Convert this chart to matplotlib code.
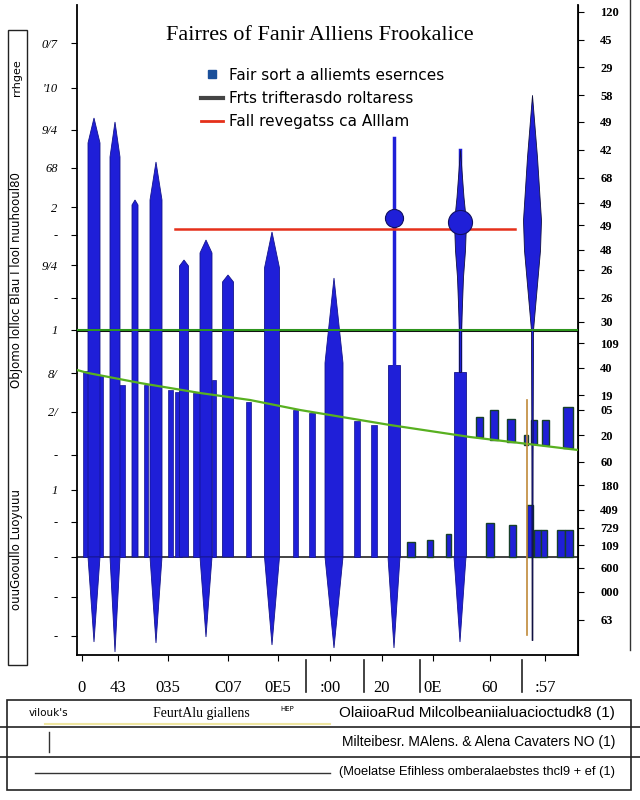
import matplotlib.pyplot as plt
from matplotlib.lines import Line2D
from matplotlib.patches import Rectangle
import numpy as np

# --- data -------------------------------------------------------------
title = "Fairres of Fanir Alliens Frookalice"
legend_labels = ["Fair sort a alliemts esernces",
                 "Frts trifterasdo roltaress",
                 "Fall revegatss ca Alllam"]

# thin bars under the falling line
bar_x = [0.85, 2.35, 4.45, 6.9, 9.35, 10.15, 11.95, 13.7, 17.15, 21.85, 23.5, 28.0, 29.7]
bar_w = [0.5, 0.5, 0.7, 0.4, 0.5, 0.7, 0.7, 0.4, 0.5, 0.5, 0.6, 0.6, 0.6]
bar_h = [186, 182, 172, 172, 167, 165, 164, 177, 155, 147, 144, 136, 132]

# spiked bars: centre, width, shoulder, tip, depth below zero
spike_x = [1.7, 3.8, 5.8, 7.9, 10.7, 12.9, 15.1, 19.5, 25.7]
spike_w = [1.2, 1.0, 0.6, 1.2, 0.9, 1.2, 1.1, 1.5, 1.8]
spike_s = [414, 400, 352, 357, 291, 304, 275, 289, 194]
spike_t = [439, 435, 357, 395, 297, 317, 282, 325, 279]
spike_d = [85, 95, 0, 86, 0, 80, 0, 88, 91]

# needle bars
needle_x = [31.7, 38.3]
needle_h = [192, 185]
needle_tip = [419, 407]
needle_dot = [339, 335]
needle_size = [170, 300]
needle_d = [91, 85]
n2_levels = [407, 360, 335, 307, 280, 227, 185]
n2_half = [0.0, 0.35, 0.6, 0.5, 0.3, 0.1, 0.1]

# spindle
spindle_x = 45.5
spindle_levels = [462, 400, 337, 307, 227, 100, -83]
spindle_half = [0.0, 0.5, 0.9, 0.8, 0.1, 0.06, 0.04]

# short bars sitting on the falling line
float_x = [40.25, 41.7, 43.4, 44.9, 45.7, 46.85, 49.1]
float_w = [0.7, 0.8, 0.8, 0.4, 0.6, 0.7, 1.0]
float_lo = [120, 117, 115, 112, 113, 112, 109]
float_hi = [140, 147, 138, 122, 137, 137, 150]

# small bars at zero
small_x = [33.4, 35.3, 37.15, 41.3, 43.5, 45.3, 46.0, 46.7, 48.4, 49.2]
small_w = [0.8, 0.6, 0.5, 0.7, 0.7, 0.6, 0.7, 0.6, 0.8, 0.8]
small_h = [15, 17, 23, 34, 32, 52, 27, 27, 27, 27]

# lines
flat_level = 227
red_level = 328
red_span = [9.8, 43.8]
fall_x = [0, 1.1, 6.3, 12.3, 17.3, 22.3, 31.3, 39.3, 50.1]
fall_y = [187, 184, 174, 164, 157, 147, 132, 120, 107]
orange_x = 45.0
orange_span = [-78, 157]

# ticks
xtick_pos = [0.5, 4.1, 9.1, 15.1, 20.1, 25.3, 30.5, 35.6, 41.3, 46.8]
xtick_lab = ["0", "43", "035", "C07", "0E5", ":00", "20", "0E", "60", ":57"]
ytick_pos = [514, 469, 427, 389, 350, 322, 292, 259, 227, 184, 145, 102, 67, 35, 0, -40, -79]
ytick_lab = ["0/7", "'10", "9/4", "68", "2", "-", "9/4", "-", "1", "8/", "2/", "-", "1", "-", "-", "-", "-"]
rtick_pos = [545, 517, 490, 462, 435, 407, 379, 354, 332, 307, 287, 259, 235, 214,
             189, 162, 147, 122, 95, 72, 47, 29, 12, -11, -35, -63]
rtick_lab = ["120", "45", "29", "58", "49", "42", "68", "49", "49", "48", "26", "26", "30",
             "109", "40", "19", "05", "20", "60", "180", "409", "729", "109", "600", "000", "63"]

table_rows = [["vilouk's", "FeurtAlu giallens", "OlaiioaRud Milcolbeaniialuacioctudk8 (1)"],
              ["", "", "Milteibesr. MAlens. & Alena Cavaters NO (1)"],
              ["", "", "(Moelatse Efihless omberalaebstes thcl9 + ef (1)"]]
table_sizes = [11, 10, 9.3]

blue = "#1f1fd8"
edge = "#15158c"

fig = plt.figure(figsize=(6.4, 8), dpi=100)
ax = fig.add_axes([77 / 640, 1 - 655 / 800, 501 / 640, 650 / 800])
ax.set_xlim(0, 50.1)
ax.set_ylim(-98, 552)

ax.axhline(0, color="#222222", lw=1.2, zorder=1)
ax.axhline(flat_level, color="#111111", lw=2.2, zorder=1)
ax.axhline(flat_level, color="#2e9a1e", lw=1.4, zorder=4)

ax.bar(bar_x, bar_h, width=bar_w, color=blue, edgecolor=edge, lw=0.5, zorder=2)
ax.bar(small_x, small_h, width=small_w, color=blue, edgecolor="#17402a", lw=1, zorder=2)
ax.bar(float_x, np.array(float_hi) - np.array(float_lo), bottom=float_lo, width=float_w,
       color=blue, edgecolor="#17402a", lw=1, zorder=2)

for c, w, s, t, d in zip(spike_x, spike_w, spike_s, spike_t, spike_d):
    h = w / 2
    xs = [c - h, c - h, c, c + h, c + h]
    ys = [0, s, t, s, 0]
    ax.fill(xs, ys, color=blue, ec=edge, lw=0.6, zorder=3)
    if d:
        ax.fill([c - h, c, c + h], [0, -d, 0], color=blue, ec=edge, lw=0.6, zorder=3)

for c, h, tip, dot, sz, d in zip(needle_x, needle_h, needle_tip, needle_dot, needle_size, needle_d):
    ax.bar(c, h, width=1.2, color=blue, edgecolor=edge, lw=0.6, zorder=3)
    ax.fill([c - 0.6, c, c + 0.6], [0, -d, 0], color=blue, ec=edge, lw=0.6, zorder=3)
    ax.plot([c, c], [h, tip], color=blue, lw=2.5, zorder=3)
    ax.scatter([c], [dot], s=sz, color=blue, edgecolor="#101060", lw=0.8, zorder=6)

lv = np.array(n2_levels)
hw = np.array(n2_half)
ax.fill_betweenx(lv, needle_x[1] - hw, needle_x[1] + hw, color=blue, ec="#101040", lw=0.6, zorder=3)

lv = np.array(spindle_levels)
hw = np.array(spindle_half)
ax.fill_betweenx(lv, spindle_x - hw, spindle_x + hw, color=blue, ec="#101040", lw=0.6, zorder=3)

ax.plot(fall_x, fall_y, color="#58b020", lw=1.6, zorder=5)
ax.plot(red_span, [red_level, red_level], color="#e5301a", lw=1.8, zorder=4)
ax.plot([orange_x, orange_x], orange_span, color="#c08a3a", lw=1.2, zorder=5)

ax.spines["top"].set_visible(False)
for s in ["left", "right", "bottom"]:
    ax.spines[s].set_linewidth(1.3)
ax.set_xticks(xtick_pos)
ax.set_xticklabels(xtick_lab, fontsize=12, family="Liberation Serif")
ax.tick_params(axis="x", length=4, pad=14)
ax.set_yticks(ytick_pos)
ax.set_yticklabels(ytick_lab, fontsize=9, family="Liberation Serif", style="italic")
ax.tick_params(axis="y", length=4, pad=10)

ax2 = ax.twinx()
ax2.set_ylim(ax.get_ylim())
ax2.set_yticks(rtick_pos)
ax2.set_yticklabels(rtick_lab, fontsize=9, family="Liberation Serif", fontweight="bold")
ax2.tick_params(axis="y", length=4, pad=12)
for s in ["top", "left", "bottom"]:
    ax2.spines[s].set_visible(False)

handles = [Line2D([], [], marker="s", color="#1a4f9a", linestyle="None", markersize=6),
           Line2D([], [], color="#444444", lw=3),
           Line2D([], [], color="#e5301a", lw=2)]
ax.legend(handles, legend_labels, loc="upper center", bbox_to_anchor=(0.49, 0.925),
          frameon=False, fontsize=11, handlelength=1.4, labelspacing=0.55, handletextpad=0.4)

fig.text(0.5, 1 - 35 / 800, title, ha="center", va="center", fontsize=16,
         family="Liberation Serif")

# left label box
fig.add_artist(Rectangle((8 / 640, 1 - 665 / 800), 19 / 640, 635 / 800, transform=fig.transFigure,
                         fill=False, ec="#222222", lw=1))
fig.text(17 / 640, 1 - 78 / 800, "rrhgee", rotation=90, ha="center", va="center", fontsize=8)
fig.text(17 / 640, 1 - 280 / 800, "ObJomo lolloc Blau I looI nuuhooul80", rotation=90,
         ha="center", va="center", fontsize=8.5)
fig.text(17 / 640, 1 - 550 / 800, "ouuGooullo Luoyuuu", rotation=90, ha="center", va="center",
         fontsize=8.5)

# right border line
fig.add_artist(Line2D([630 / 640, 630 / 640], [1 - 650 / 800, 1.0], transform=fig.transFigure,
                      color="#333333", lw=1))

# separators in tick label band
for px in [306, 364, 420, 522]:
    fig.add_artist(Line2D([px / 640, px / 640], [1 - 692 / 800, 1 - 660 / 800],
                          transform=fig.transFigure, color="#222222", lw=1.2))

# table
fig.add_artist(Rectangle((7 / 640, 1 - 790 / 800), 624 / 640, 90 / 800, transform=fig.transFigure,
                         fill=False, ec="#222222", lw=1.2))
for py in [727, 757]:
    fig.add_artist(Line2D([0, 1], [1 - py / 800, 1 - py / 800], transform=fig.transFigure,
                          color="#222222", lw=1.2))
fig.add_artist(Line2D([45 / 640, 330 / 640], [1 - 724 / 800, 1 - 724 / 800], transform=fig.transFigure,
                      color="#efe6a0", lw=1.5))
fig.add_artist(Line2D([49 / 640, 49 / 640], [1 - 752 / 800, 1 - 732 / 800], transform=fig.transFigure,
                      color="#333333", lw=1))
fig.add_artist(Line2D([35 / 640, 330 / 640], [1 - 773 / 800, 1 - 773 / 800], transform=fig.transFigure,
                      color="#333333", lw=1))
row_y = [713, 742, 772]
for r, yy, fs in zip(table_rows, row_y, table_sizes):
    if r[0]:
        fig.text(29 / 640, 1 - yy / 800, r[0], ha="left", va="center", fontsize=7.5)
    if r[1]:
        fig.text(153 / 640, 1 - yy / 800, r[1], ha="left", va="center", fontsize=10,
                 family="Liberation Serif")
        fig.text(280 / 640, 1 - (yy - 4) / 800, "HEP", ha="left", va="center", fontsize=5)
    fig.text(615 / 640, 1 - yy / 800, r[2], ha="right", va="center", fontsize=fs,
             family="Liberation Sans")

fig.savefig("out.png", dpi=100)
